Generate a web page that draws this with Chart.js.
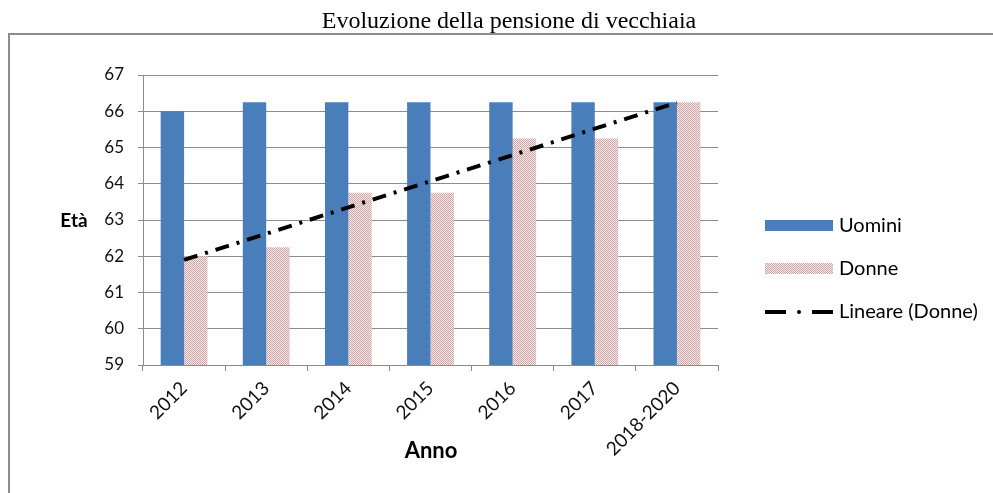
<!DOCTYPE html>
<html>
<head>
<meta charset="utf-8">
<script src="https://cdn.jsdelivr.net/npm/chart.js@4/dist/chart.umd.min.js"></script>
<style>
  html,body{margin:0;padding:0;background:#fff;width:993px;height:493px;overflow:hidden;}
  #wrap{position:absolute;left:0;top:0;width:993px;height:493px;overflow:hidden;}
  canvas{display:block;}
</style>
</head>
<body>
<div id="wrap"><canvas id="c" width="993" height="493"></canvas></div>
<script>
// data
const anni   = ['2012','2013','2014','2015','2016','2017','2018-2020'];
const uomini = [66, 66.25, 66.25, 66.25, 66.25, 66.25, 66.25];
const donne  = [62, 62.25, 63.75, 63.75, 65.25, 65.25, 66.25];
const trend  = [61.9, 62.62, 63.35, 64.07, 64.79, 65.52, 66.24];
const yTicks = [59, 60, 61, 62, 63, 64, 65, 66, 67];

const BLUE = '#4a7ebb';
const FONT = 'Lato, "Open Sans", sans-serif';

// dotted pink fill like the original
function pinkPattern(){
  const p = document.createElement('canvas');
  p.width = 2; p.height = 2;
  const g = p.getContext('2d');
  g.fillStyle = '#f4e8e8'; g.fillRect(0,0,2,2);
  g.fillStyle = '#cfa5a5'; g.fillRect(0,0,1,1); g.fillRect(1,1,1,1);
  return g.createPattern(p,'repeat');
}
const ctx = document.getElementById('c').getContext('2d');
const PINK = pinkPattern();

// title, frame, horizontal "Età", "Anno" and the legend on the right
const extras = {
  id:'extras',
  beforeDraw(chart){
    const c = chart.ctx;
    c.save();
    c.strokeStyle = '#8c8c8c'; c.lineWidth = 2;
    c.beginPath(); c.moveTo(9, 493); c.lineTo(9, 34); c.lineTo(993, 34); c.stroke();
    c.fillStyle = '#000';
    c.font = '24px "Liberation Serif", "Times New Roman", serif';
    c.textAlign = 'center'; c.textBaseline = 'alphabetic';
    c.fillText('Evoluzione della pensione di vecchiaia', 509, 28);
    c.restore();
  },
  afterDraw(chart){
    const c = chart.ctx;
    c.save();
    c.fillStyle = '#000';
    c.font = 'bold 19px ' + FONT;
    c.textAlign = 'center'; c.textBaseline = 'middle';
    c.fillText('Età', 74, 221);
    c.font = 'bold 22px ' + FONT;
    c.fillText('Anno', 431, 451);

    const lx = 765, lw = 68;
    c.textAlign = 'left';
    c.font = '20px ' + FONT;
    // Uomini
    c.fillStyle = BLUE; c.fillRect(lx, 220, lw, 11);
    c.fillStyle = '#000'; c.fillText('Uomini', lx + lw + 6, 226);
    // Donne
    c.fillStyle = PINK; c.fillRect(lx, 263, lw, 11);
    c.fillStyle = '#000'; c.fillText('Donne', lx + lw + 6, 269);
    // Lineare
    c.strokeStyle = '#000'; c.lineWidth = 4;
    c.beginPath(); c.moveTo(lx, 312); c.lineTo(lx + 21, 312); c.stroke();
    c.beginPath(); c.moveTo(lx + 47, 312); c.lineTo(lx + lw, 312); c.stroke();
    c.beginPath(); c.arc(lx + 34, 312, 2, 0, Math.PI*2); c.fill();
    c.fillText('Lineare (Donne)', lx + lw + 6, 312);
    c.restore();
  }
};

new Chart(ctx, {
  type:'bar',
  data:{
    labels: anni,
    datasets:[
      {type:'line', label:'Lineare (Donne)', data:trend, borderColor:'#000', borderWidth:4,
       borderDash:[14,8,3,8], pointRadius:0, fill:false, tension:0, order:0},
      {label:'Uomini', data:uomini, backgroundColor:BLUE, categoryPercentage:0.57, barPercentage:1, order:1},
      {label:'Donne', data:donne, backgroundColor:PINK, categoryPercentage:0.57, barPercentage:1, order:1}
    ]
  },
  options:{
    responsive:false, animation:false, devicePixelRatio:1,
    layout:{padding:{left:0, right:275, top:75, bottom:0}},
    plugins:{legend:{display:false}, tooltip:{enabled:false}, title:{display:false}},
    scales:{
      x:{
        grid:{drawOnChartArea:false, drawTicks:true, tickLength:6, color:'#8c8c8c'},
        border:{display:true, color:'#8c8c8c', width:1},
        ticks:{color:'#111', font:{family:FONT, size:19}, maxRotation:45, minRotation:45, padding:6},
        afterFit(s){ s.height = 128; }
      },
      y:{
        min:59, max:67,
        afterBuildTicks(s){ s.ticks = yTicks.map(v=>({value:v})); },
        grid:{color:'#8c8c8c', lineWidth:1, drawTicks:true, tickLength:5},
        border:{display:true, color:'#8c8c8c', width:1},
        ticks:{color:'#111', font:{family:FONT, size:17}, padding:14},
        afterFit(s){ s.width = 143; }
      }
    }
  },
  plugins:[extras]
});
</script>
</body>
</html>
